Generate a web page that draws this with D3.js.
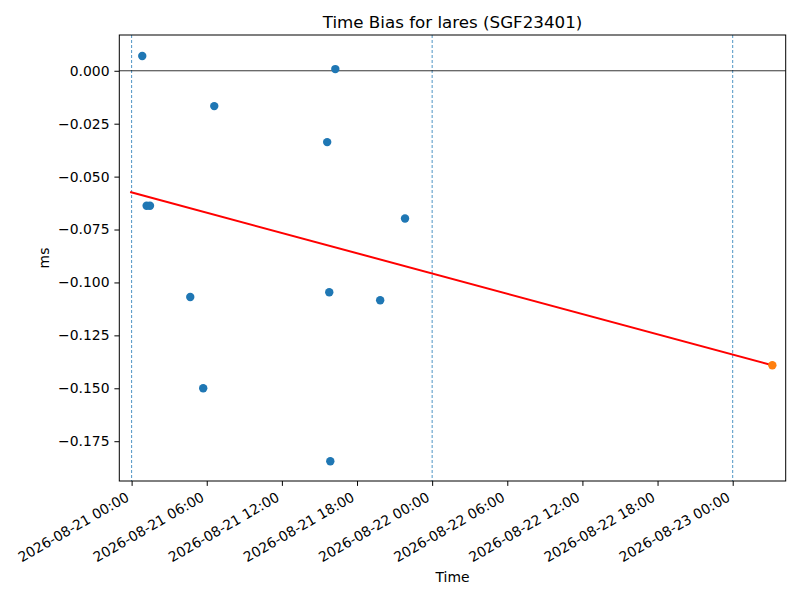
<html>
<head>
  <meta charset="utf-8">
  <style>
  body { margin: 0; background: #fff; }
  #chart text { font-family: "DejaVu Sans", sans-serif; fill: #000; }
  </style>
  <script src="https://d3js.org/d3.v7.min.js"></script>
</head>
<body>
  <svg id="chart"></svg>
</body>
  <script>

  // observed time bias points (UTC)
  var pointTimes = ["2026-08-21 00:51", "2026-08-21 01:12", "2026-08-21 01:28", "2026-08-21 04:41",
                    "2026-08-21 05:43", "2026-08-21 06:36", "2026-08-21 15:37", "2026-08-21 15:47",
                    "2026-08-21 15:52", "2026-08-21 16:16", "2026-08-21 19:51", "2026-08-21 21:50"];
  var pointValues = [0.0070, -0.0638, -0.0638, -0.1069,
                     -0.1500, -0.0167, -0.0337, -0.1046,
                     -0.1845, 0.0008, -0.1084, -0.0698];

  // predicted point and the fitted line
  var predTime = "2026-08-23 03:10",
      predValue = -0.1391;
  var fitTimes = ["2026-08-20 23:53", "2026-08-23 03:10"];
  var fitValues = [-0.0573, -0.1391];

  // day boundaries marked with dashed lines
  var dayLines = ["2026-08-21 00:00", "2026-08-22 00:00", "2026-08-23 00:00"];

  var xTickLabels = ["2026-08-21 00:00", "2026-08-21 06:00", "2026-08-21 12:00", "2026-08-21 18:00",
                     "2026-08-22 00:00", "2026-08-22 06:00", "2026-08-22 12:00", "2026-08-22 18:00",
                     "2026-08-23 00:00"];
  var yTicks = [0, -0.025, -0.05, -0.075, -0.1, -0.125, -0.15, -0.175];

  var width = 800,
      height = 600;
  var pLeft = 119.3, pRight = 785.7, pTop = 35, pBottom = 481;

  var parse = d3.utcParse("%Y-%m-%d %H:%M");
  var fmt = d3.utcFormat("%Y-%m-%d %H:%M");

  var x = d3.scaleUtc()
      .domain([parse("2026-08-20 23:01"), parse("2026-08-23 04:14")])
      .range([pLeft, pRight]);
  var y = d3.scaleLinear()
      .domain([-0.1938, 0.0169])
      .range([pBottom, pTop]);

  var chart = d3.select("#chart")
      .attr("width", width)
      .attr("height", height);

  var plot = chart.append("g");

  plot.selectAll("line.day")
      .data(dayLines)
    .enter().append("line")
      .attr("class", "day")
      .attr("x1", function(d) { return x(parse(d)); })
      .attr("x2", function(d) { return x(parse(d)); })
      .attr("y1", pTop)
      .attr("y2", pBottom)
      .attr("stroke", "#1f77b4")
      .attr("stroke-width", 0.8)
      .attr("stroke-dasharray", "3,2");

  plot.append("line")
      .attr("x1", pLeft)
      .attr("x2", pRight)
      .attr("y1", y(0))
      .attr("y2", y(0))
      .attr("stroke", "#000")
      .attr("stroke-width", 0.8);

  plot.selectAll("circle.obs")
      .data(pointTimes)
    .enter().append("circle")
      .attr("class", "obs")
      .attr("cx", function(d) { return x(parse(d)); })
      .attr("cy", function(d, i) { return y(pointValues[i]); })
      .attr("r", 4.2)
      .attr("fill", "#1f77b4");

  var line = d3.line()
      .x(function(d) { return x(parse(d)); })
      .y(function(d, i) { return y(fitValues[i]); });

  plot.append("path")
      .datum(fitTimes)
      .attr("d", line)
      .attr("fill", "none")
      .attr("stroke", "red")
      .attr("stroke-width", 2);

  plot.append("circle")
      .attr("cx", x(parse(predTime)))
      .attr("cy", y(predValue))
      .attr("r", 4.2)
      .attr("fill", "#ff7f0e");

  // frame
  chart.append("rect")
      .attr("x", pLeft)
      .attr("y", pTop)
      .attr("width", pRight - pLeft)
      .attr("height", pBottom - pTop)
      .attr("fill", "none")
      .attr("stroke", "#000")
      .attr("stroke-width", 1);

  // x axis
  var xAxis = d3.axisBottom(x)
      .tickValues(xTickLabels.map(parse))
      .tickFormat(fmt)
      .tickSize(4.9)
      .tickPadding(4.9);

  var gx = chart.append("g")
      .attr("transform", "translate(0," + pBottom + ")")
      .call(xAxis);
  gx.select(".domain").remove();
  gx.selectAll(".tick line").attr("stroke-width", 1);
  gx.selectAll(".tick text")
      .attr("font-size", 13.9)
      .attr("text-anchor", "end")
      .attr("dy", null)
      .attr("y", 0)
      .attr("transform", "translate(-2,19) rotate(-30)");

  // y axis
  var yAxis = d3.axisLeft(y)
      .tickValues(yTicks)
      .tickFormat(d3.format(".3f"))
      .tickSize(4.9)
      .tickPadding(4.9);

  var gy = chart.append("g")
      .attr("transform", "translate(" + pLeft + ",0)")
      .call(yAxis);
  gy.select(".domain").remove();
  gy.selectAll(".tick line").attr("stroke-width", 1);
  gy.selectAll(".tick text").attr("font-size", 13.9);

  chart.append("text")
      .attr("x", (pLeft + pRight) / 2)
      .attr("y", 28)
      .attr("text-anchor", "middle")
      .attr("font-size", 16.7)
      .text("Time Bias for lares (SGF23401)");

  chart.append("text")
      .attr("x", (pLeft + pRight) / 2)
      .attr("y", 582)
      .attr("text-anchor", "middle")
      .attr("font-size", 13.9)
      .text("Time");

  chart.append("text")
      .attr("transform", "translate(49," + (pTop + pBottom) / 2 + ") rotate(-90)")
      .attr("text-anchor", "middle")
      .attr("font-size", 13.9)
      .text("ms");

  </script>
</html>
